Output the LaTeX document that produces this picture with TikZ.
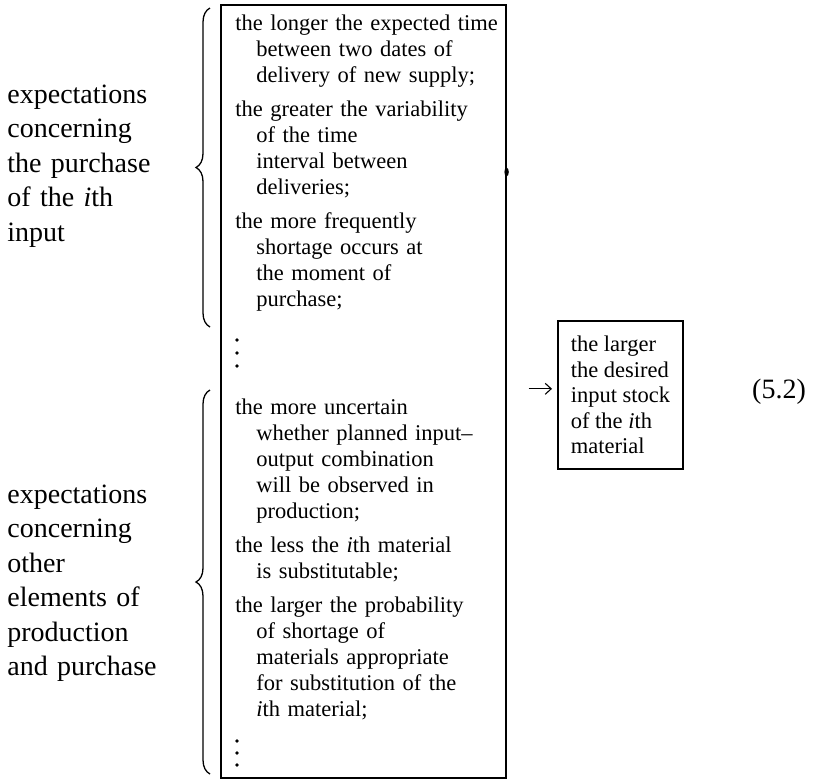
\documentclass[tikz,border=0pt]{standalone}
\usepackage{fontspec}
\setmainfont{Liberation Serif}
\usetikzlibrary{decorations.pathreplacing,arrows.meta}
\newcommand{\contl}{\hspace*{10.5pt}}
\begin{document}
\begin{tikzpicture}[x=0.5pt,y=-0.5pt,
  frame/.style={draw, line width=0.8pt, inner sep=0pt},
  entry/.style={anchor=base west, inner sep=0pt, text width=140pt, align=left,
    font=\fontsize{11.25}{13}\selectfont},
  sidetext/.style={anchor=base west, inner sep=0pt, text width=90pt, align=left,
    font=\fontsize{14}{17.25}\selectfont},
  curly/.style={decorate, decoration={brace, amplitude=7pt}, line width=0.65pt},
  vdot/.style={circle, fill, inner sep=0pt, minimum size=1.8pt},
  ]
\useasboundingbox (0,0) rectangle (813,778);

% list of conditions
\node[frame, anchor=north west, minimum width=142.5pt, minimum height=386.5pt] (big) at (220,4) {};
% ink spot on the right rule
\coordinate (spot) at (big.east |- 0,172);
\fill (spot) ellipse [x radius=1.1pt, y radius=2.2pt];

\node[entry] (e1) at (235,30) {the longer the expected time\\\contl between two dates of\\\contl delivery of new supply;};
\node[entry] (e2) at (235,116) {the greater the variability\\\contl of the time\\\contl interval between\\\contl deliveries;};
\node[entry] (e3) at (235,228) {the more frequently\\\contl shortage occurs at\\\contl the moment of\\\contl purchase;};
\foreach \y [count=\k] in {340,353,366} \node[vdot] (da\k) at (237,\y) {};

\node[entry] (e4) at (235,414) {the more uncertain\\\contl whether planned input--\\\contl output combination\\\contl will be observed in\\\contl production;};
\node[entry] (e5) at (235,552) {the less the \textit{i}th material\\\contl is substitutable;};
\node[entry] (e6) at (235,612) {the larger the probability\\\contl of shortage of\\\contl materials appropriate\\\contl for substitution of the\\\contl \textit{i}th material;};
\foreach \y [count=\k] in {741,753,765} \node[vdot] (db\k) at (237,\y) {};

% group labels and braces
\node[sidetext] (lab1) at (7,103) {expectations\\concerning\\the purchase\\of the \textit{i}th\\input};
\node[sidetext] (lab2) at (7,503) {expectations\\concerning\\other\\elements of\\production\\and purchase};

\coordinate (ba-top) at (210,8);
\coordinate (ba-bot) at (210,327);
\coordinate (bb-top) at (210,390);
\coordinate (bb-bot) at (210,774);
\draw[curly] (ba-bot) -- (ba-top);
\draw[curly] (bb-bot) -- (bb-top);

% result
\node[frame, anchor=north west, minimum width=62.5pt, minimum height=74pt, inner xsep=6.5pt,
  align=left, font=\fontsize{11.25}{12.75}\selectfont] (res) at (557,320)
  {the larger\\the desired\\input stock\\of the \textit{i}th\\material};
\coordinate (arrow-in) at ([yshift=3pt]res.west);
\draw[line width=0.55pt, -{Straight Barb[length=3pt,width=5.5pt]}, shorten <=11pt, shorten >=2.5pt]
  (arrow-in -| big.east) -- (arrow-in);

\node[font=\fontsize{14}{17}\selectfont] (eqno) at (779,392) {(5.2)};
\end{tikzpicture}
\end{document}
